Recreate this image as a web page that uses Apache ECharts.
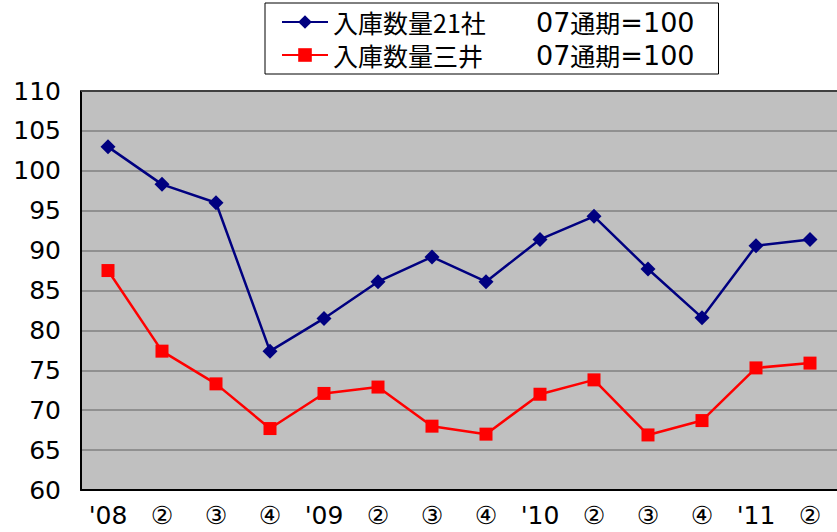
<!DOCTYPE html>
<html>
<head>
<meta charset="utf-8">
<script src="https://cdn.jsdelivr.net/npm/echarts@6/dist/echarts.min.js"></script>
<style>
  html, body { margin: 0; padding: 0; background: #fff; }
  #chartsDiv { width: 837px; height: 532px; }
</style>
</head>
<body>
<div id="chartsDiv"></div>
<script>
// 四半期カテゴリ
var categories = ["'08", '②', '③', '④', "'09", '②', '③', '④', "'10", '②', '③', '④', "'11", '②']
var seriesNames = ['入庫数量21社', '入庫数量三井']
// 07通期=100 の指数
var values21 = [103.0, 98.3, 96.0, 77.4, 81.5, 86.1, 89.2, 86.1, 91.4, 94.3, 87.7, 81.6, 90.6, 91.4]
var valuesMitsui = [87.5, 77.4, 73.3, 67.7, 72.1, 72.9, 68.0, 67.0, 72.0, 73.8, 66.9, 68.7, 75.3, 75.9]
var yMin = 60
var yMax = 110
var yStep = 5

var font = '"Noto Sans CJK JP", "Noto Sans", sans-serif'
var numFont = '"DejaVu Sans", "Noto Sans CJK JP", sans-serif'
var realChart = echarts.init(document.getElementById('chartsDiv'), null, { renderer: 'svg' })

var option = {
  animation: false,
  backgroundColor: '#fff',
  textStyle: { fontFamily: font },
  legend: {
    left: 265,
    top: 3,
    orient: 'vertical',
    padding: [5, 24, 5, 16],
    itemGap: 5,
    itemWidth: 46,
    itemHeight: 17,
    borderColor: '#000',
    borderWidth: 1,
    backgroundColor: '#fff',
    data: seriesNames,
    formatter: function(name) {
      // 系列名 + 「07通期=100」
      return '{a|' + name + '}{d|07}{c|通期}{d|=100}'
    },
    textStyle: {
      color: '#000',
      fontSize: 25,
      lineHeight: 28,
      fontFamily: font,
      rich: {
        a: { width: 203, fontSize: 25, lineHeight: 28, fontFamily: font, color: '#000' },
        c: { fontSize: 25, lineHeight: 28, fontFamily: font, color: '#000' },
        d: { fontSize: 27, lineHeight: 28, fontFamily: numFont, color: '#000' }
      }
    }
  },
  grid: {
    left: 81,
    right: 0,
    top: 91,
    bottom: 42,
    show: true,
    backgroundColor: '#c0c0c0',
    borderWidth: 0
  },
  xAxis: {
    type: 'category',
    data: categories,
    boundaryGap: true,
    axisLine: { lineStyle: { color: '#000', width: 2 } },
    axisTick: { inside: true, length: 5, lineStyle: { color: '#000' } },
    axisLabel: { color: '#000', fontSize: 25, fontFamily: numFont, margin: 13, interval: 0 },
    splitLine: { show: false }
  },
  yAxis: {
    type: 'value',
    min: yMin,
    max: yMax,
    interval: yStep,
    axisLine: { show: true, lineStyle: { color: '#000', width: 2 } },
    axisTick: { show: false },
    axisLabel: { color: '#000', fontSize: 25, fontFamily: numFont, margin: 20 },
    splitLine: { lineStyle: { color: '#808080', width: 1.5 } }
  },
  series: [
    {
      name: seriesNames[0],
      type: 'line',
      data: values21,
      color: '#000080',
      symbol: 'diamond',
      symbolSize: 15,
      lineStyle: { width: 2.5, color: '#000080' },
      itemStyle: { color: '#000080' }
    },
    {
      name: seriesNames[1],
      type: 'line',
      data: valuesMitsui,
      color: '#ff0000',
      symbol: 'rect',
      symbolSize: 13,
      lineStyle: { width: 2.5, color: '#ff0000' },
      itemStyle: { color: '#ff0000' }
    }
  ],
  graphic: [
    {
      // 上辺の濃い枠線
      type: 'line',
      shape: { x1: 81, y1: 91, x2: 837, y2: 91 },
      style: { stroke: '#404040', lineWidth: 2 },
      z: 10
    }
  ]
}

realChart.setOption(option)
</script>
</body>
</html>
